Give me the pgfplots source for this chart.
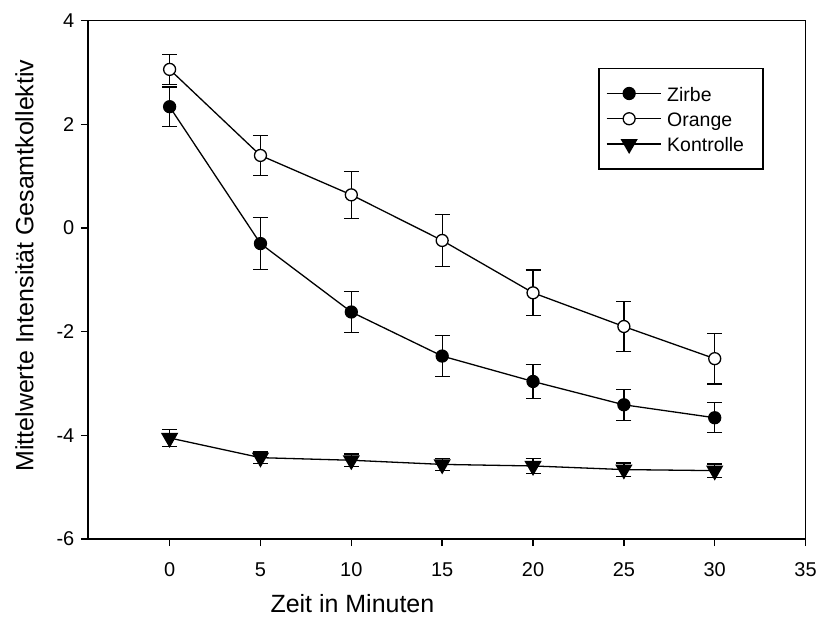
\documentclass[border=0pt]{standalone}
\usepackage{pgfplots}
\pgfplotsset{compat=1.18}
\usepackage{fontspec}
\setmainfont{Liberation Sans}
\begin{document}
\begin{tikzpicture}
\begin{axis}[
  scale only axis,
  width=719bp, height=519.3bp,
  xmin=-4.5, xmax=35, ymin=-6, ymax=4,
  xtick={0,5,...,35}, ytick={-6,-4,...,4},
  tick pos=left,
  tick align=outside,
  major tick length=7bp,
  axis line style={line width=1.5bp},
  every tick/.style={line width=1.5bp, black},
  /pgf/number format/assume math mode=true,
  ticklabel style={font=\fontsize{20bp}{23bp}\selectfont},
  xticklabel style={yshift=-13bp},
  yticklabel style={xshift=-3bp},
  xlabel={Zeit in Minuten},
  ylabel={Mittelwerte Intensität Gesamtkollektiv},
  label style={font=\fontsize{25bp}{29bp}\selectfont},
  xlabel style={at={(axis description cs:0.3686,0)}, anchor=center, yshift=-65bp},
  ylabel style={at={(axis description cs:-0.0883,0.5276)}, anchor=center},
  clip=false,
  legend style={at={(0.9416,0.9089)}, anchor=north east, draw=black, line width=1.3bp,
    font=\fontsize{19.5bp}{23bp}\selectfont, cells={anchor=west},
    inner xsep=7bp, inner ysep=14bp, row sep=3.3bp,
    nodes={inner xsep=6bp, inner ysep=2bp, text height=17bp, text depth=1bp}},
  legend image code/.code={\draw[#1, mark repeat=2, mark phase=2] plot coordinates {(0bp,0bp) (22.5bp,0bp) (45bp,0bp)};
    \path (45bp,0bp) -- (54bp,0bp);},
]
\addplot[black, line width=1.3bp, mark=*, mark size=6bp, mark options={fill=black, draw=black, solid},
  error bars/.cd, y dir=both, y explicit,
  error bar style={line width=1.3bp, black},
  error mark options={rotate=90, line width=1.3bp, mark size=7.5bp, black}]
  coordinates {
  (0,2.34) +- (0,0.38)
  (5,-0.30) +- (0,0.50)
  (10,-1.62) +- (0,0.40)
  (15,-2.47) +- (0,0.40)
  (20,-2.96) +- (0,0.33)
  (25,-3.41) +- (0,0.30)
  (30,-3.66) +- (0,0.29)
  };
\addlegendentry{Zirbe\hspace*{6bp}}
\addplot[black, line width=1.3bp, mark=*, mark size=6bp, mark options={fill=white, draw=black, solid},
  error bars/.cd, y dir=both, y explicit,
  error bar style={line width=1.3bp, black},
  error mark options={rotate=90, line width=1.3bp, mark size=7.5bp, black}]
  coordinates {
  (0,3.06) +- (0,0.29)
  (5,1.40) +- (0,0.39)
  (10,0.64) +- (0,0.45)
  (15,-0.24) +- (0,0.50)
  (20,-1.25) +- (0,0.44)
  (25,-1.90) +- (0,0.48)
  (30,-2.52) +- (0,0.49)
  };
\addlegendentry{Orange\hspace*{6bp}}
\addplot[black, line width=1.3bp, mark=triangle*, mark size=8.7bp, mark options={fill=black, draw=black, rotate=180, solid},
  error bars/.cd, y dir=both, y explicit,
  error bar style={line width=1.3bp, black},
  error mark options={rotate=90, line width=1.3bp, mark size=7.5bp, black}]
  coordinates {
  (0,-4.05) +- (0,0.16)
  (5,-4.43) +- (0,0.11)
  (10,-4.48) +- (0,0.12)
  (15,-4.56) +- (0,0.12)
  (20,-4.59) +- (0,0.14)
  (25,-4.66) +- (0,0.13)
  (30,-4.68) +- (0,0.13)
  };
\addlegendentry{Kontrolle\hspace*{6bp}}
\path (rel axis cs:0,0) ++(-88bp,-84bp) coordinate (bbsw);
\end{axis}
\path[use as bounding box] (bbsw) rectangle ++(820bp,624bp);
\end{tikzpicture}
\end{document}
